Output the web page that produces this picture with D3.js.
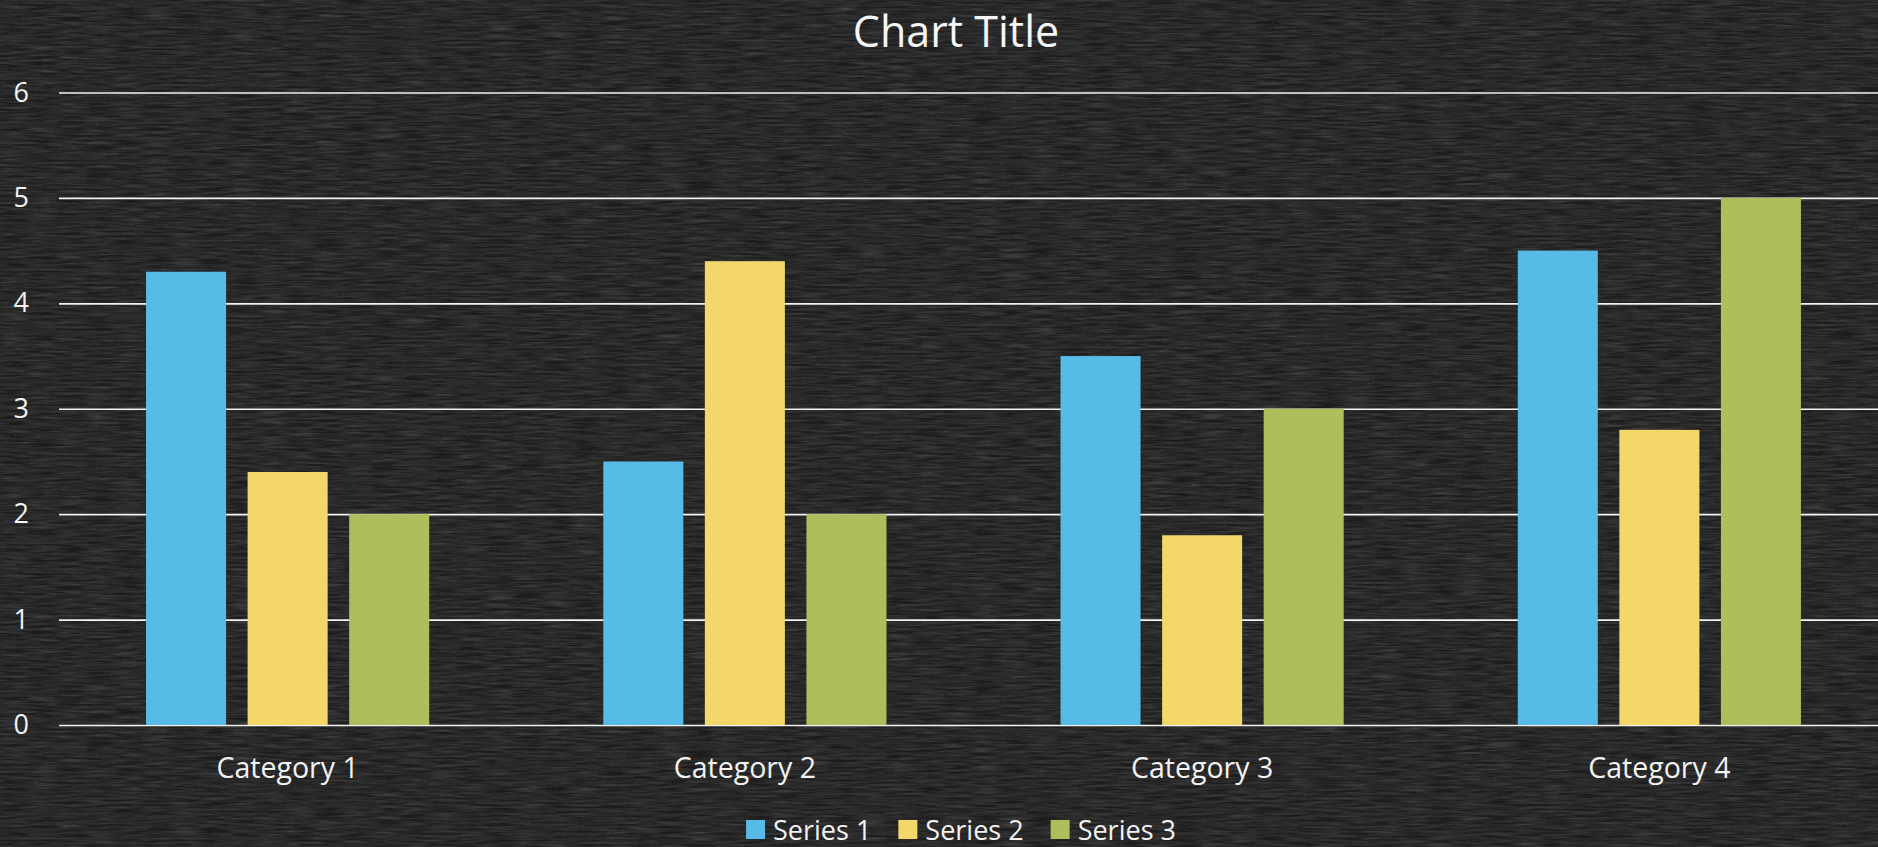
<!DOCTYPE html>
<html>
<head>
<meta charset="utf-8">
<script src="https://cdn.jsdelivr.net/npm/d3@7"></script>
<style>
  body { margin: 0; background: #1d1d1d; }
  svg { display: block; font-family: "Open Sans", sans-serif; }
</style>
</head>
<body>
<svg width="1878" height="847"></svg>
<script>
const categories = ['Category 1', 'Category 2', 'Category 3', 'Category 4'];
const seriesNames = ['Series 1', 'Series 2', 'Series 3'];
const series1 = [4.3, 2.5, 3.5, 4.5];
const series2 = [2.4, 4.4, 1.8, 2.8];
const series3 = [2, 2, 3, 5];
const yTicks = [0, 1, 2, 3, 4, 5, 6];
const colors = ['#56bbe6', '#f3d76b', '#afbd5a'];

const allSeries = [series1, series2, series3];

const svg = d3.select('svg');
const W = 1878, H = 847;

// chalkboard background
const defs = svg.append('defs');
const f = defs.append('filter').attr('id', 'chalk')
    .attr('x', 0).attr('y', 0).attr('width', '100%').attr('height', '100%');
f.append('feTurbulence')
    .attr('type', 'fractalNoise')
    .attr('baseFrequency', '0.035 0.45')
    .attr('numOctaves', 3)
    .attr('seed', 7);
f.append('feColorMatrix')
    .attr('type', 'matrix')
    .attr('values', '0 0 0 0 1  0 0 0 0 1  0 0 0 0 1  0.9 0.9 0.9 0 -1.0');
const f2 = defs.append('filter').attr('id', 'speck')
    .attr('x', 0).attr('y', 0).attr('width', '100%').attr('height', '100%');
f2.append('feTurbulence')
    .attr('type', 'fractalNoise')
    .attr('baseFrequency', '0.9')
    .attr('numOctaves', 1)
    .attr('seed', 3);
f2.append('feColorMatrix')
    .attr('type', 'matrix')
    .attr('values', '0 0 0 0 1  0 0 0 0 1  0 0 0 0 1  1.2 1.2 0 0 -1.4');

svg.append('rect').attr('width', W).attr('height', H).attr('fill', '#1c1c1c');
svg.append('rect').attr('width', W).attr('height', H)
    .attr('filter', 'url(#chalk)').attr('opacity', 0.16);
svg.append('rect').attr('width', W).attr('height', H)
    .attr('filter', 'url(#speck)').attr('opacity', 0.2);

const plotLeft = 59, plotRight = 1888, plotTop = 92.5, plotBottom = 725;

const x0 = d3.scaleBand().domain(categories).range([plotLeft, plotRight]);
const x1 = d3.scaleBand().domain(seriesNames)
    .range([0, x0.bandwidth()])
    .paddingInner(0.212)
    .paddingOuter(0.857);
const y = d3.scaleLinear().domain([0, 6]).range([plotBottom, plotTop]);

// gridlines + y labels
const yAxis = svg.append('g')
    .attr('transform', `translate(${plotLeft},0)`)
    .call(d3.axisLeft(y).tickValues(yTicks).tickFormat(d3.format('d'))
        .tickSize(-(plotRight - plotLeft)).tickPadding(30));
yAxis.select('.domain').remove();
yAxis.selectAll('.tick line').attr('stroke', '#f2f2f2').attr('stroke-width', 1.6);
yAxis.selectAll('.tick text')
    .attr('fill', '#f2f2f2')
    .attr('font-size', 27)
    .attr('font-family', '"Open Sans", sans-serif');

// bars
const groups = svg.append('g').selectAll('g')
    .data(categories)
    .join('g')
    .attr('transform', d => `translate(${x0(d)},0)`);

groups.selectAll('rect')
    .data((c, i) => seriesNames.map((s, j) => ({ s, v: allSeries[j][i], j })))
    .join('rect')
    .attr('x', d => x1(d.s))
    .attr('y', d => y(d.v))
    .attr('width', x1.bandwidth())
    .attr('height', d => y(0) - y(d.v))
    .attr('fill', d => colors[d.j]);

// category labels
const xAxis = svg.append('g')
    .attr('transform', `translate(0,${plotBottom})`)
    .call(d3.axisBottom(x0).tickSize(0).tickPadding(33));
xAxis.select('.domain').remove();
xAxis.selectAll('.tick text')
    .attr('fill', '#f2f2f2')
    .attr('font-size', 28.5)
    .attr('font-family', '"Open Sans", sans-serif');

// title
svg.append('text')
    .attr('x', 956)
    .attr('y', 47)
    .attr('text-anchor', 'middle')
    .attr('fill', '#f5f5f5')
    .attr('font-size', 43)
    .text('Chart Title');

// legend
const legend = svg.append('g');
const items = legend.selectAll('g')
    .data(seriesNames)
    .join('g');
items.append('rect')
    .attr('y', 820)
    .attr('width', 19)
    .attr('height', 19)
    .attr('fill', (d, i) => colors[i]);
items.append('text')
    .attr('x', 27)
    .attr('y', 840)
    .attr('fill', '#f2f2f2')
    .attr('font-size', 27)
    .text(d => d);
let cx = 0;
items.each(function () {
    const g = d3.select(this);
    g.attr('transform', `translate(${cx},0)`);
    cx += 27 + g.select('text').node().getComputedTextLength() + 27;
});
const total = cx - 27;
legend.attr('transform', `translate(${961 - total / 2},0)`);
</script>
</body>
</html>
